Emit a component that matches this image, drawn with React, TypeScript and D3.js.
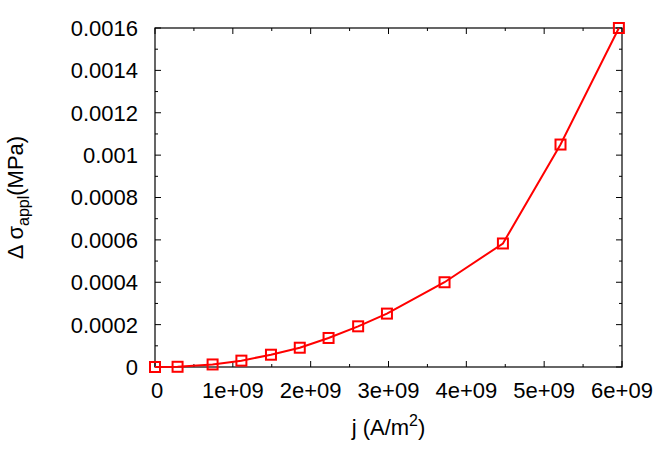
import React from 'react';
import * as d3 from 'd3';

const width = 664;
const height = 465;
const margin = { top: 28, right: 42, bottom: 98, left: 155 };

// current density j (A/m^2)
const jValues = [0, 0.29e9, 0.74e9, 1.11e9, 1.49e9, 1.86e9, 2.23e9, 2.61e9, 2.98e9, 3.72e9, 4.47e9, 5.21e9, 5.96e9];
// delta sigma_appl (MPa)
const sigmaValues = [0, 0.000001, 0.000012, 0.00003, 0.000058, 0.000091, 0.000137, 0.000192, 0.000252, 0.0004, 0.000583, 0.00105, 0.0016];

const xTicks = [0, 1e9, 2e9, 3e9, 4e9, 5e9, 6e9];
const xTickLabels = ['0', '1e+09', '2e+09', '3e+09', '4e+09', '5e+09', '6e+09'];
const yTicks = [0, 0.0002, 0.0004, 0.0006, 0.0008, 0.001, 0.0012, 0.0014, 0.0016];
const yTickLabels = ['0', '0.0002', '0.0004', '0.0006', '0.0008', '0.001', '0.0012', '0.0014', '0.0016'];

const font = '"Liberation Sans", Arial, sans-serif';

const App = () => {
  const innerW = width - margin.left - margin.right;
  const innerH = height - margin.top - margin.bottom;

  const x = d3.scaleLinear().domain([0, 6e9]).range([0, innerW]);
  const y = d3.scaleLinear().domain([0, 0.0016]).range([innerH, 0]);

  const data = jValues.map((j, i) => ({ j, s: sigmaValues[i] }));
  const line = d3.line<{ j: number; s: number }>()
    .x(d => x(d.j))
    .y(d => y(d.s));

  const xMinor = d3.range(0.5e9, 6e9, 1e9);
  const yMinor = d3.range(0.0001, 0.0016, 0.0002);
  const major = 6;
  const minor = 3;

  return (
    <svg width={width} height={height} style={{ position: 'absolute', left: 0, top: 0 }} fontFamily={font}>
      <rect width={width} height={height} fill="#fff" />
      <g transform={`translate(${margin.left},${margin.top})`}>
        {/* ticks on all four sides */}
        {xTicks.map((t, i) => (
          <g key={'xt' + i}>
            <line x1={x(t)} x2={x(t)} y1={innerH} y2={innerH - major} stroke="#000" />
            <line x1={x(t)} x2={x(t)} y1={0} y2={major} stroke="#000" />
          </g>
        ))}
        {xMinor.map((t, i) => (
          <g key={'xm' + i}>
            <line x1={x(t)} x2={x(t)} y1={innerH} y2={innerH - minor} stroke="#000" />
            <line x1={x(t)} x2={x(t)} y1={0} y2={minor} stroke="#000" />
          </g>
        ))}
        {yTicks.map((t, i) => (
          <g key={'yt' + i}>
            <line x1={0} x2={major} y1={y(t)} y2={y(t)} stroke="#000" />
            <line x1={innerW} x2={innerW - major} y1={y(t)} y2={y(t)} stroke="#000" />
          </g>
        ))}
        {yMinor.map((t, i) => (
          <g key={'ym' + i}>
            <line x1={0} x2={minor} y1={y(t)} y2={y(t)} stroke="#000" />
            <line x1={innerW} x2={innerW - minor} y1={y(t)} y2={y(t)} stroke="#000" />
          </g>
        ))}
        <rect x={0} y={0} width={innerW} height={innerH} fill="none" stroke="#000" strokeWidth={1.2} />

        {/* tick labels */}
        {xTicks.map((t, i) => (
          <text key={'xl' + i} x={x(t) + (i === 0 ? 2 : 0)} y={innerH + 31} textAnchor="middle" fontSize={22}>
            {xTickLabels[i]}
          </text>
        ))}
        {yTicks.map((t, i) => (
          <text key={'yl' + i} x={-17} y={y(t)} dy="0.36em" textAnchor="end" fontSize={22}>
            {yTickLabels[i]}
          </text>
        ))}

        {/* data */}
        <path d={line(data) || ''} fill="none" stroke="#ff0000" strokeWidth={2} />
        {data.map((d, i) => (
          <rect
            key={'p' + i}
            x={x(d.j) - 5}
            y={y(d.s) - 5}
            width={10}
            height={10}
            fill="none"
            stroke="#ff0000"
            strokeWidth={2}
          />
        ))}

        {/* axis titles */}
        <text x={innerW / 2} y={innerH + 68} textAnchor="middle" fontSize={22}>
          j (A/m<tspan dy={-9} fontSize={16}>2</tspan><tspan dy={9}>)</tspan>
        </text>
      </g>
      <text transform={`translate(23,${margin.top + innerH / 2}) rotate(-90)`} textAnchor="middle" fontSize={22}>
        Δ σ<tspan dy={6} fontSize={16}>appl</tspan><tspan dy={-6}>(MPa)</tspan>
      </text>
    </svg>
  );
};

export default App;
